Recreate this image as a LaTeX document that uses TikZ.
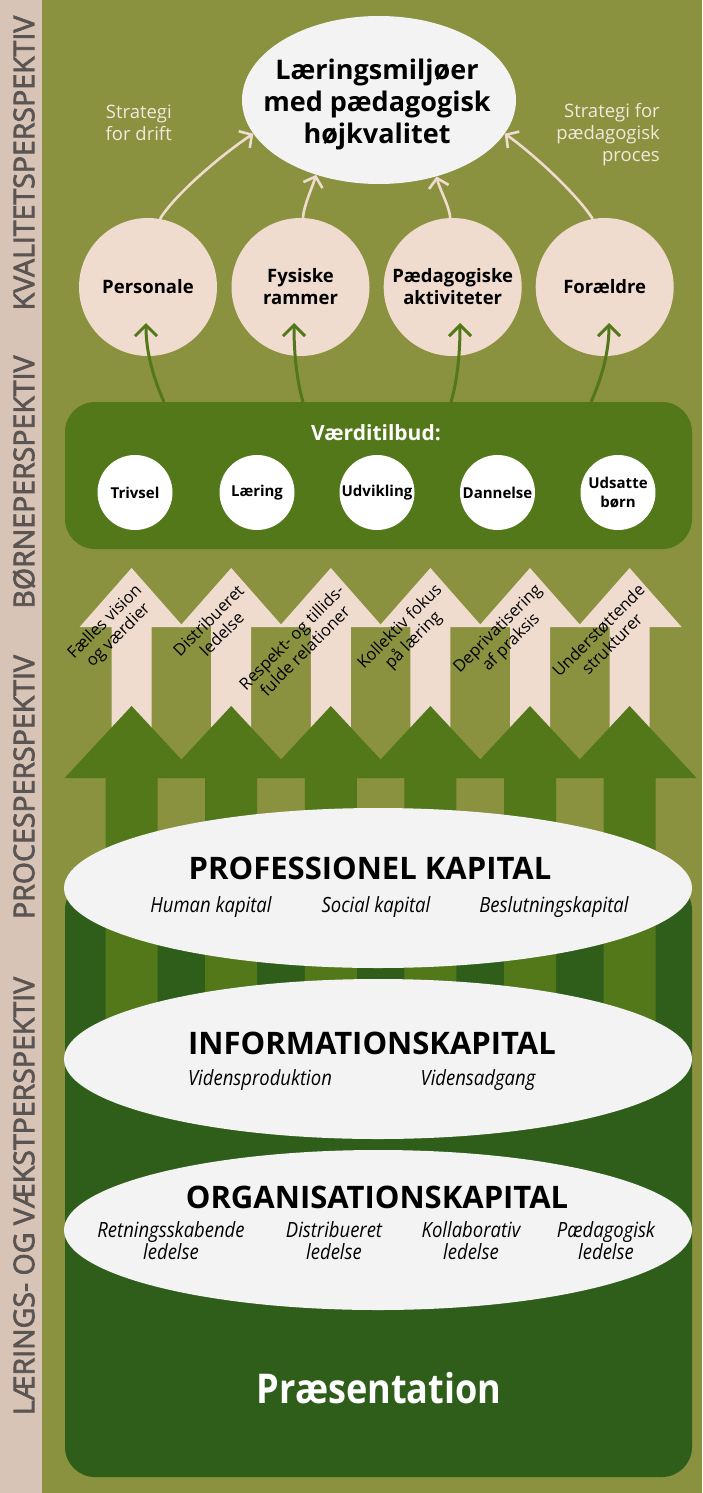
\documentclass[tikz,border=0pt]{standalone}
\usepackage{fontspec}
\setmainfont{Open Sans}
\newfontfamily\condf[FakeStretch=0.88]{Open Sans}
\newfontfamily\bandf[FakeBold=2.5]{Open Sans}
\usetikzlibrary{shapes.geometric,arrows.meta}
\definecolor{olive}{HTML}{8A913F}
\definecolor{band}{HTML}{D8C3B7}
\definecolor{vgreen}{HTML}{52781A}
\definecolor{dgreen}{HTML}{2E5E19}
\definecolor{cream}{HTML}{F0DCCF}
\definecolor{ewhite}{HTML}{F3F3F3}
\definecolor{bandtext}{HTML}{5A5452}
\definecolor{creamtext}{HTML}{F2E8DE}
\tikzset{
  bandlbl/.style={rotate=90, text=bandtext, font=\bandf\fontsize{28.5}{32}\selectfont, inner sep=0},
  pinkc/.style={circle, fill=cream, minimum size=138, inner sep=0, align=center, font=\fontsize{18.5}{22}\selectfont\bfseries},
  whitec/.style={circle, fill=white, minimum size=75, inner sep=0, align=center, font=\fontsize{15}{19}\selectfont\bfseries},
  bigell/.style={ellipse, fill=ewhite, minimum width=628, minimum height=160, inner sep=0},
  captitle/.style={font=\fontsize{31}{34}\selectfont\bfseries, inner sep=0},
  capsub/.style={font=\condf\fontsize{21}{22}\selectfont\itshape, align=center, inner sep=0},
  arrlbl/.style={rotate=45, align=center, font=\fontsize{16.5}{19}\selectfont, inner sep=0},
  creamarrow/.style={draw=cream, line width=2.6, -{Straight Barb[length=9pt,width=20pt]}},
  greenarrow/.style={draw=vgreen, line width=3, -{Straight Barb[length=11pt,width=22pt]}},
  strat/.style={text=creamtext, align=right, anchor=east, font=\fontsize{18.5}{22}\selectfont, inner sep=0}
}
\begin{document}
\begin{tikzpicture}[x=1pt,y=-1pt]
\useasboundingbox (0,0) rectangle (702,1493);
\fill[band] (0,0) rectangle (42,1493);
\fill[olive] (42,0) rectangle (702,1493);

% side labels
\node[bandlbl] (lk) at (24,163) {KVALITETSPERSPEKTIV};
\node[bandlbl] (lb) at (24,482) {BØRNEPERSPEKTIV};
\node[bandlbl] (lp) at (24,787) {PROCESPERSPEKTIV};
\node[bandlbl] (ll) at (24,1196) {LÆRINGS- OG VÆKSTPERSPEKTIV};

% bottom dark box
\fill[dgreen, rounded corners=30] (65,880) rectangle (692,1477);

% cream block arrows
\foreach \i in {0,...,5} {
  \pgfmathsetmacro\cx{131.6+99.6*\i}
  \fill[cream] ({\cx-20},745) -- ({\cx-20},627) -- ({\cx-52},627) -- (\cx,568)
    -- ({\cx+52},627) -- ({\cx+20},627) -- ({\cx+20},745) -- cycle;
}
% green block arrows
\foreach \i in {0,...,5} {
  \pgfmathsetmacro\cx{131.6+99.6*\i}
  \fill[vgreen] ({\cx-26},1085) -- ({\cx-26},778) -- ({\cx-67},778) -- (\cx,706)
    -- ({\cx+67},778) -- ({\cx+26},778) -- ({\cx+26},1085) -- cycle;
}

% labels on cream arrows
\node[arrlbl] (a1) at (112,629) {Fælles vision\\og værdier};
\node[arrlbl] (a2) at (215,627) {Distribueret\\ledelse};
\node[arrlbl] (a3) at (298,644) {Respekt- og tillids-\\fulde relationer};
\node[arrlbl] (a4) at (407,634) {Kollektiv fokus\\på læring};
\node[arrlbl] (a5) at (505,636) {Deprivatisering\\af praksis};
\node[arrlbl] (a6) at (605,637) {Understøttende\\strukturer};

% capital ellipses
\node[bigell] (pk) at (378,888) {};
\node[captitle] (pkt) at (370,868) {PROFESSIONEL KAPITAL};
\node[capsub] (pk1) at (211,907) {Human kapital};
\node[capsub] (pk2) at (376,907) {Social kapital};
\node[capsub] (pk3) at (554,907) {Beslutningskapital};

\node[bigell] (ik) at (378,1059) {};
\node[captitle] (ikt) at (372,1043) {INFORMATIONSKAPITAL};
\node[capsub] (ik1) at (260,1080) {Vidensproduktion};
\node[capsub] (ik2) at (478,1080) {Vidensadgang};

\node[bigell] (ok) at (378,1230) {};
\node[captitle] (okt) at (377,1197) {ORGANISATIONSKAPITAL};
\node[capsub] (ok1) at (171,1241) {Retningsskabende\\ledelse};
\node[capsub] (ok2) at (334,1241) {Distribueret\\ledelse};
\node[capsub] (ok3) at (471,1241) {Kollaborativ\\ledelse};
\node[capsub] (ok4) at (606,1241) {Pædagogisk\\ledelse};

\node[text=white, font=\condf\fontsize{41}{44}\selectfont\bfseries] (pres) at (379,1388) {Præsentation};

% value box
\node[fill=vgreen, rounded corners=30, minimum width=627, minimum height=147, inner sep=0] (vbox) at (378.5,475.5) {};
\node[text=white, font=\fontsize{21}{24}\selectfont\bfseries, inner sep=0] (vt) at (376,433) {Værditilbud:};
\node[whitec] (w1) at (135,492.5) {Trivsel};
\node[whitec] (w2) at (257,492.5) {Læring};
\node[whitec] (w3) at (377,492.5) {Udvikling};
\node[whitec] (w4) at (497.5,492.5) {Dannelse};
\node[whitec] (w5) at (618,492.5) {Udsatte\\børn};

% top ellipse
\node[ellipse, fill=ewhite, minimum width=274, minimum height=168, inner sep=0] (top) at (379,100) {};
\node[align=center, font=\fontsize{27}{32}\selectfont\bfseries, inner sep=0] (topt) at (377,104) {Læringsmiljøer\\med pædagogisk\\højkvalitet};

\node[strat] (s1) at (172,123) {Strategi\\for drift};
\node[strat] (s2) at (660,135) {Strategi for\\pædagogisk\\proces};

% pink circles
\node[pinkc] (c1) at (148,287) {Personale};
\node[pinkc] (c2) at (300.5,287) {Fysiske\\rammer};
\node[pinkc] (c3) at (452.7,287) {Pædagogiske\\aktiviteter};
\node[pinkc] (c4) at (604.7,287) {Forældre};

% cream connectors
\draw[creamarrow] (c1.80) .. controls (176,193) and (224,153) .. (top.195);
\draw[creamarrow] (c2.88) .. controls (304,205) and (312,188) .. (top.230);
\draw[creamarrow] (c3.92) .. controls (449,205) and (439,188) .. (top.-53);
\draw[creamarrow] (c4.100) .. controls (576,193) and (531,152) .. (top.-15);

% green connectors
\coordinate (g1) at (164,402); \coordinate (t1) at (146,323);
\coordinate (g2) at (303,402); \coordinate (t2) at (294,323);
\coordinate (g3) at (451,402); \coordinate (t3) at (460,323);
\coordinate (g4) at (591,402); \coordinate (t4) at (609,323);
\draw[greenarrow] (g1) .. controls (152,375) and (146,350) .. (t1);
\draw[greenarrow] (g2) .. controls (296,378) and (294,350) .. (t2);
\draw[greenarrow] (g3) .. controls (458,378) and (460,350) .. (t3);
\draw[greenarrow] (g4) .. controls (603,375) and (609,350) .. (t4);
\end{tikzpicture}
\end{document}
